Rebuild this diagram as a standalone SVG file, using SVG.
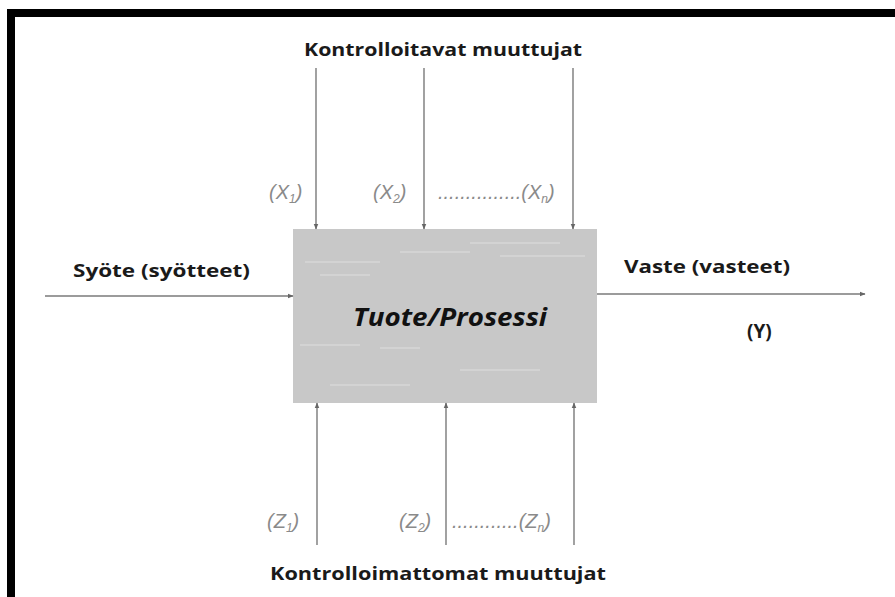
<svg xmlns="http://www.w3.org/2000/svg" width="895" height="597" viewBox="0 0 895 597">
<style>
.lbl{font-family:"Open Sans","Liberation Sans",sans-serif;font-weight:bold;fill:#1a1a1a;}
.var{font-family:"Liberation Sans","DejaVu Sans",sans-serif;font-style:italic;fill:#8a8a8a;font-size:20px;}
.sub{font-size:12px;}
.conn{stroke:#7a7a7a;stroke-width:1.4;fill:none;marker-end:url(#ah);}
.streak{stroke:#d6d6d6;stroke-width:2;opacity:0.8;}
</style>
<defs>
<marker id="ah" viewBox="0 0 10 10" refX="9" refY="5" markerWidth="6" markerHeight="6" orient="auto" markerUnits="userSpaceOnUse">
<path d="M0,1 L10,5 L0,9 z" fill="#666"/>
</marker>
</defs>
<rect width="895" height="597" fill="#ffffff"/>
<path d="M11,597 V13 H895" fill="none" stroke="#000" stroke-width="8"/>

<g id="process">
<rect x="293" y="229" width="304" height="174" fill="#c8c8c8"/>
<line class="streak" x1="305" y1="262" x2="380" y2="262"/>
<line class="streak" x1="320" y1="275" x2="370" y2="275"/>
<line class="streak" x1="400" y1="252" x2="470" y2="252"/>
<line class="streak" x1="470" y1="243" x2="560" y2="243"/>
<line class="streak" x1="500" y1="256" x2="585" y2="256"/>
<line class="streak" x1="300" y1="345" x2="360" y2="345"/>
<line class="streak" x1="380" y1="348" x2="420" y2="348"/>
<line class="streak" x1="460" y1="370" x2="540" y2="370"/>
<line class="streak" x1="330" y1="385" x2="410" y2="385"/>
<text x="450" y="326" text-anchor="middle" textLength="194" lengthAdjust="spacingAndGlyphs" style="font-family:'Open Sans','Liberation Sans',sans-serif;font-weight:bold;font-style:italic;font-size:25px;fill:#111">Tuote/Prosessi</text>
</g>

<g id="connectors">
<line class="conn" x1="316" y1="68" x2="316" y2="229"/>
<line class="conn" x1="424" y1="68" x2="424" y2="229"/>
<line class="conn" x1="573" y1="68" x2="573" y2="229"/>
<line class="conn" x1="317" y1="545" x2="317" y2="403"/>
<line class="conn" x1="446" y1="545" x2="446" y2="403"/>
<line class="conn" x1="574" y1="545" x2="574" y2="403"/>
<line class="conn" x1="45" y1="296" x2="293" y2="296"/>
<line class="conn" x1="597" y1="294" x2="865" y2="294"/>
</g>

<g id="top-label"><text class="lbl" x="443" y="56" text-anchor="middle" font-size="18" textLength="278" lengthAdjust="spacingAndGlyphs">Kontrolloitavat muuttujat</text></g>
<g id="x-vars">
<text class="var" x="269" y="199">(<tspan>X</tspan><tspan class="sub" dy="4">1</tspan><tspan dy="-4">)</tspan></text>
<text class="var" x="373" y="199">(<tspan>X</tspan><tspan class="sub" dy="4">2</tspan><tspan dy="-4">)</tspan></text>
<text class="var" x="438" y="199">...............(<tspan>X</tspan><tspan class="sub" dy="4">n</tspan><tspan dy="-4">)</tspan></text>
</g>
<g id="input"><text class="lbl" x="73" y="277" font-size="17" textLength="177" lengthAdjust="spacingAndGlyphs">Syöte (syötteet)</text></g>
<g id="output">
<text class="lbl" x="624" y="273" font-size="17" textLength="166" lengthAdjust="spacingAndGlyphs">Vaste (vasteet)</text>
<text class="lbl" x="747" y="338" font-size="19">(Y)</text>
</g>
<g id="z-vars">
<text class="var" x="267" y="528">(<tspan>Z</tspan><tspan class="sub" dy="4">1</tspan><tspan dy="-4">)</tspan></text>
<text class="var" x="399" y="528">(<tspan>Z</tspan><tspan class="sub" dy="4">2</tspan><tspan dy="-4">)</tspan></text>
<text class="var" x="452" y="528">............(<tspan>Z</tspan><tspan class="sub" dy="4">n</tspan><tspan dy="-4">)</tspan></text>
</g>
<g id="bottom-label"><text class="lbl" x="438" y="580" text-anchor="middle" font-size="18" textLength="336" lengthAdjust="spacingAndGlyphs">Kontrolloimattomat muuttujat</text></g>
</svg>
